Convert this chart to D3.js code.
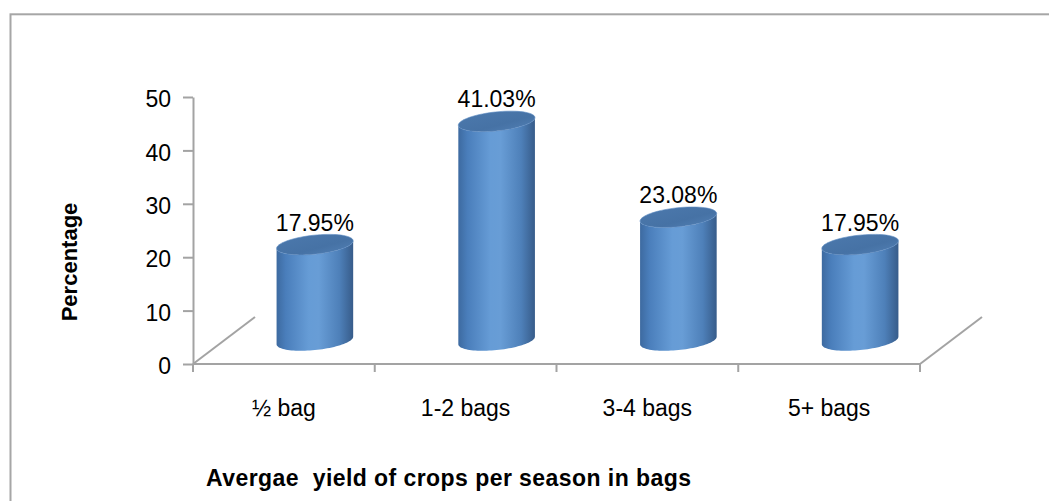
<!DOCTYPE html>
<html>
<head>
<meta charset="utf-8">
<script src="https://cdn.jsdelivr.net/npm/d3@7"></script>
<style>
  html, body { margin: 0; padding: 0; background: #fff; }
  svg { display: block; }
  text { font-family: "Liberation Sans", Arial, sans-serif; fill: #000; }
</style>
</head>
<body>
<svg id="chart" width="1049" height="501"></svg>
<script>
// Average yield of crops per season (share of respondents, %)
const categories = ["½ bag", "1-2 bags", "3-4 bags", "5+ bags"];
const values = [17.95, 41.03, 23.08, 17.95];
const valueLabels = ["17.95%", "41.03%", "23.08%", "17.95%"];
const yTicks = [0, 10, 20, 30, 40, 50];
const yTitle = "Percentage";
const xTitle = "Avergae  yield of crops per season in bags";

const svg = d3.select("#chart");
const W = 1049, H = 501;

// plot frame (front-left corner of the floor and depth of the 3D floor)
const plotLeft = 193, plotRight = 920, floorY = 364, plotTop = 97;
const depthX = 62, depthY = -47;
const gridColor = "#a3a3a3";

const x = d3.scaleBand().domain(categories).range([plotLeft, plotRight]).padding(0);
const y = d3.scaleLinear().domain([0, 50]).range([floorY, plotTop]);

// outer chart border
svg.append("rect")
  .attr("x", 10.5).attr("y", 14.3)
  .attr("width", W + 20).attr("height", H + 20)
  .attr("fill", "none").attr("stroke", "#a6a6a6").attr("stroke-width", 2);

// gradients for the cylinders
const defs = svg.append("defs");
const bodyGrad = defs.append("linearGradient").attr("id", "cylBody")
  .attr("x1", "0%").attr("x2", "100%").attr("y1", "0%").attr("y2", "0%");
[["0%", "#3d6aa0"], ["12%", "#4a7ebb"], ["42%", "#669cd6"], ["55%", "#689dd6"],
 ["82%", "#4e80b9"], ["100%", "#375c8a"]]
  .forEach(([o, c]) => bodyGrad.append("stop").attr("offset", o).attr("stop-color", c));
const capGrad = defs.append("linearGradient").attr("id", "cylTop")
  .attr("x1", "0%").attr("x2", "100%").attr("y1", "0%").attr("y2", "100%");
[["0%", "#4c79ad"], ["60%", "#4672a5"], ["100%", "#5381b6"]]
  .forEach(([o, c]) => capGrad.append("stop").attr("offset", o).attr("stop-color", c));

// floor: front edge, side edges, category ticks
const g = svg.append("g");
g.append("line").attr("x1", plotLeft).attr("x2", plotRight).attr("y1", floorY).attr("y2", floorY)
  .attr("stroke", gridColor).attr("stroke-width", 2);
[plotLeft, plotRight].forEach(px => {
  g.append("line").attr("x1", px).attr("y1", floorY)
    .attr("x2", px + depthX).attr("y2", floorY + depthY)
    .attr("stroke", gridColor).attr("stroke-width", 2);
});
const bounds = categories.map(c => x(c)).concat([plotRight]);
g.selectAll(".xtick").data(bounds).join("line")
  .attr("x1", d => d).attr("x2", d => d)
  .attr("y1", floorY).attr("y2", floorY + 8)
  .attr("stroke", gridColor).attr("stroke-width", 2);

// value axis
const yAxis = d3.axisLeft(y).tickValues(yTicks).tickSize(10).tickSizeOuter(0).tickPadding(12);
const ay = svg.append("g").attr("transform", `translate(${plotLeft},0)`).call(yAxis);
ay.select(".domain").attr("stroke", gridColor).attr("stroke-width", 2);
ay.selectAll(".tick line").attr("stroke", gridColor).attr("stroke-width", 2);
ay.selectAll(".tick text")
  .attr("font-family", "Liberation Sans, Arial, sans-serif")
  .attr("font-size", 23).attr("fill", "#000").attr("dy", "0.42em");

// category labels
svg.selectAll(".xlabel").data(categories).join("text")
  .attr("x", d => x(d) + x.bandwidth() / 2)
  .attr("y", 416)
  .attr("text-anchor", "middle")
  .attr("font-size", 23)
  .text(d => d);

// cylinders
const rx = 38.5, ry = 9.5, rot = -6 * Math.PI / 180;
function ellPt(cx, cy, t) {
  const ex = rx * Math.cos(t), ey = ry * Math.sin(t);
  return [cx + ex * Math.cos(rot) - ey * Math.sin(rot),
          cy + ex * Math.sin(rot) + ey * Math.cos(rot)];
}
// parameter of the rightmost silhouette point of the tilted ellipse
const tEdge = Math.atan2(-ry * Math.sin(rot), rx * Math.cos(rot));
const line = d3.line();

const cyl = svg.append("g").selectAll("g").data(values).join("g");
cyl.each(function (v, i) {
  const cx = x(categories[i]) + x.bandwidth() / 2 + depthX / 2;
  const baseY = floorY + depthY / 2;
  const h = y(0) - y(v);
  const capY = baseY - h;
  const sel = d3.select(this);

  // side surface: front arc of the base, then back along the front arc of the top
  const pts = [];
  const n = 48;
  for (let k = 0; k <= n; k++) {
    const t = tEdge + Math.PI - (Math.PI * k / n);
    pts.push(ellPt(cx, baseY, t));
  }
  for (let k = 0; k <= n; k++) {
    const t = tEdge + (Math.PI * k / n);
    pts.push(ellPt(cx, capY, t));
  }
  sel.append("path").attr("d", line(pts) + "Z").attr("fill", "url(#cylBody)");

  const tp = [];
  for (let k = 0; k <= 72; k++) tp.push(ellPt(cx, capY, 2 * Math.PI * k / 72));
  sel.append("path").attr("d", line(tp) + "Z")
    .attr("fill", "url(#cylTop)")
    .attr("stroke", "#5d8cc2").attr("stroke-width", 0.6);

  sel.append("text")
    .attr("x", cx).attr("y", capY - 14)
    .attr("text-anchor", "middle")
    .attr("font-size", 23)
    .text(valueLabels[i]);
});

// axis titles
svg.append("text")
  .attr("transform", `translate(77,262) rotate(-90)`)
  .attr("text-anchor", "middle")
  .attr("font-weight", "bold")
  .attr("font-size", 22)
  .text(yTitle);

svg.append("text")
  .attr("x", 206).attr("y", 486)
  .attr("font-weight", "bold")
  .attr("font-size", 23)
  .attr("textLength", 485)
  .attr("lengthAdjust", "spacing")
  .style("white-space", "pre")
  .text(xTitle);
</script>
</body>
</html>
